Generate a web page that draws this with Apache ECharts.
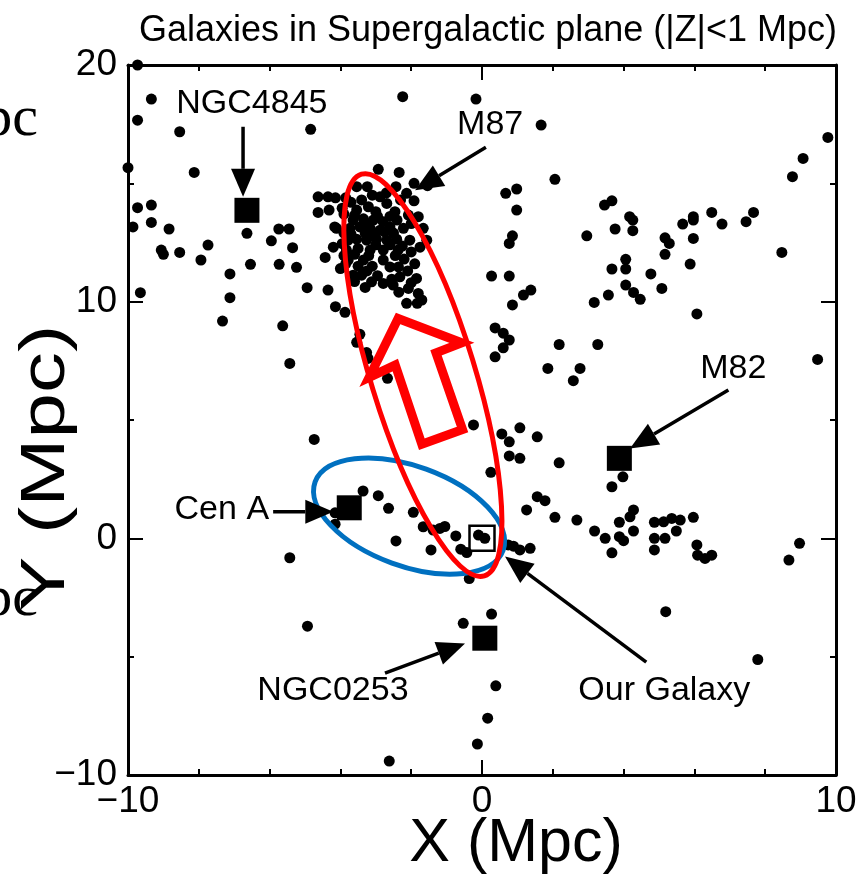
<!DOCTYPE html>
<html>
<head>
<meta charset="utf-8">
<script src="https://cdn.jsdelivr.net/npm/echarts@6.0.0/dist/echarts.min.js"></script>
<style>
  html, body { margin: 0; padding: 0; background: #fff; }
  #chart { width: 868px; height: 886px; }
</style>
</head>
<body>
<div id="chart"></div>
<script>
// galaxies with |Z| < 1 Mpc, [X, Y] in Mpc
const galaxyXY = [
  [-9.73, 20.0], [-9.34, 18.56], [-9.73, 17.67], [-8.54, 17.18], [-2.24, 18.66], [-0.17, 18.56],
  [-4.84, 17.28], [-10.0, 15.66], [-8.13, 15.46], [-9.73, 13.97], [-9.34, 14.08], [-9.86, 13.16],
  [-9.34, 13.35], [-8.84, 13.07], [-9.06, 12.18], [-9.0, 12.0], [-8.54, 12.08], [-7.94, 11.76],
  [-7.74, 12.39], [-9.65, 10.38], [-6.64, 12.89], [-6.54, 11.58], [-7.12, 11.17], [-7.12, 10.17],
  [-7.33, 9.18], [-5.63, 8.98], [-5.95, 12.57], [-5.74, 13.07], [-5.45, 13.07], [-5.35, 12.28],
  [-5.73, 11.58], [-5.24, 11.45], [-4.94, 10.59], [-4.35, 10.49], [-4.14, 9.79], [-3.87, 9.55],
  [-4.43, 11.87], [-4.63, 14.43], [-4.35, 14.43], [-4.63, 13.77], [-4.32, 13.87], [-4.16, 13.16],
  // M87 / Virgo
  [-2.93, 15.59], [-2.34, 15.46], [-3.54, 14.86], [-3.24, 14.86], [-2.43, 14.86], [-1.92, 15.0],
  [-2.13, 14.58], [-4.14, 14.39], [-3.85, 14.39], [-2.88, 14.43], [-2.69, 14.15], [-1.92, 14.26],
  [-3.54, 13.87], [-3.21, 14.01], [-2.46, 13.8], [-2.08, 13.66], [-1.8, 13.59], [-3.64, 13.45],
  [-3.35, 13.5], [-3.07, 13.45], [-2.79, 13.38], [-4.11, 13.1], [-3.73, 13.1], [-3.45, 13.16],
  [-3.16, 13.1], [-2.88, 13.02], [-2.6, 13.16], [-2.22, 13.1], [-1.66, 13.1], [-1.56, 12.6],
  [-3.78, 12.6], [-3.54, 12.64], [-3.26, 12.6], [-2.98, 12.64], [-2.69, 12.6], [-2.41, 12.64],
  [-2.04, 12.6], [-3.83, 12.18], [-3.5, 12.25], [-3.16, 12.18], [-2.79, 12.18], [-2.37, 12.18],
  [-3.78, 11.76], [-3.35, 11.76], [-2.79, 11.76], [-2.6, 11.47], [-2.36, 11.47], [-3.64, 11.12],
  [-3.4, 11.12], [-3.12, 10.84], [-2.79, 10.77], [-2.51, 10.7], [-2.32, 11.05], [-1.85, 10.98],
  [-2.08, 10.56], [-1.8, 10.35], [-1.7, 10.07], [-2.13, 9.93], [-1.83, 9.93], [-1.54, 14.9],
  [-3.9, 13.7], [-3.0, 13.8], [-2.6, 13.6], [-3.3, 12.9], [-2.5, 12.9], [-3.0, 12.4],
  [-2.6, 12.4], [-3.6, 12.0], [-3.1, 11.5], [-2.0, 12.1], [-1.9, 11.6], [-4.0, 11.4],
  [-3.9, 12.9], [-4.2, 12.3], [-2.2, 11.8],
  [-3.7, 14.2], [-3.4, 14.3], [-3.1, 14.5], [-2.7, 14.6], [-2.3, 14.3], [-3.95, 13.95],
  [-3.6, 13.65], [-3.3, 13.25], [-2.95, 13.6], [-2.4, 13.45], [-2.0, 13.3], [-3.95, 12.45],
  [-3.7, 12.85], [-3.1, 12.85], [-2.75, 12.95], [-2.25, 12.35], [-1.75, 12.3], [-3.9, 11.95],
  [-3.5, 11.5], [-3.2, 11.95], [-2.45, 11.95], [-2.1, 11.3], [-3.85, 11.6], [-3.25, 11.3],
  [-2.95, 11.1], [-2.55, 10.95], [-3.6, 10.85], [-2.35, 10.4], [-2.0, 10.8], [-3.3, 10.6],
  [-3.45, 8.62], [-3.54, 8.28], [-3.26, 7.85], [-3.22, 7.6], [-2.67, 6.76],
  [-5.43, 7.39], [-4.74, 4.18], [-0.24, 4.79],
  // upper right
  [1.67, 17.46], [2.06, 15.17], [9.77, 16.94], [9.07, 16.05], [8.77, 15.28], [0.67, 14.58],
  [0.98, 14.76], [0.98, 13.87], [0.86, 12.78], [0.77, 12.46], [0.27, 11.08], [0.77, 11.08],
  [1.17, 10.28], [1.38, 10.49], [0.86, 9.86], [0.37, 8.89], [0.6, 8.67], [0.77, 8.38],
  [0.6, 8.05], [0.37, 7.67], [2.18, 8.19], [3.27, 8.19], [2.96, 12.78], [3.46, 14.08],
  [3.67, 14.26], [3.76, 13.07], [4.17, 13.59], [4.26, 13.45], [4.26, 13.0], [4.06, 11.79],
  [4.06, 11.38], [3.67, 11.38], [4.06, 10.7], [4.28, 10.39], [4.47, 10.1], [3.57, 10.28],
  [3.17, 9.97], [4.77, 11.17], [5.08, 10.56], [5.17, 12.7], [5.29, 12.46], [5.17, 12.0],
  [5.67, 13.28], [5.97, 13.59], [5.97, 13.45], [5.97, 12.67], [5.88, 11.59], [6.49, 13.77],
  [6.78, 13.28], [7.46, 13.38], [7.67, 13.77], [8.47, 12.08], [6.07, 9.48],
  // middle right
  [1.86, 7.18], [2.77, 7.18], [2.58, 6.66], [9.48, 7.56], [0.56, 4.41], [0.77, 4.08],
  [1.07, 4.67], [1.56, 4.29], [0.77, 3.48], [1.07, 3.38], [2.18, 3.19], [0.25, 2.79],
  [3.98, 2.6], [3.67, 2.18], [1.56, 1.76], [1.78, 1.59], [1.26, 1.2], [2.06, 0.89],
  [2.68, 0.77], [3.18, 0.31], [3.48, 0.0], [3.67, -0.61], [3.88, 0.68], [4.18, 0.91],
  [4.28, 1.2], [3.88, 0.07], [4.0, -0.1], [4.28, 0.31], [4.87, 0.68], [5.13, 0.7],
  [5.36, 0.84], [5.6, 0.77], [5.49, 0.31], [5.97, 0.89], [4.87, 0.0], [5.17, 0.0],
  [4.87, -0.49], [6.07, -0.28], [6.09, -0.71], [6.3, -0.85], [6.49, -0.71], [8.97, -0.21],
  [8.67, -0.92], [0.89, -0.33], [1.07, -0.49], [1.36, -0.42], [0.74, -0.28],
  // local group
  [-0.1, 0.14], [0.08, 0.0], [-0.6, -0.46], [-0.43, -0.6], [-0.36, -1.7],
  [-3.36, 2.0], [-2.93, 1.8], [-2.64, 1.27], [-1.94, 1.1], [-1.66, 0.49], [-1.38, 0.35],
  [-1.19, 0.42], [-1.05, 0.5], [-0.74, 0.1], [-1.44, -0.49], [-2.43, -0.11], [-4.15, 1.08],
  [-4.15, 0.6], [-5.43, -0.82],
  // lower
  [-4.93, -3.71], [-0.53, -3.59], [0.27, -3.2], [0.39, -6.23], [0.16, -7.6], [-0.13, -8.69],
  [-2.62, -9.41], [5.19, -3.1], [7.79, -5.12],
]

// NGC4845, Cen A, M82, NGC0253
const groupXY = [[-6.64, 13.86], [-3.75, 1.29], [3.88, 3.38], [0.08, -4.22]]
const ourGalaxyXY = [[0, 0]]

const xTickLabels = [-10, 0, 10]
const yTickLabels = [-10, 0, 10, 20]

// annotations, in data units
const labels = [
  { text: 'NGC4845', at: [-6.5, 18.37] },
  { text: 'M87', at: [0.23, 17.48] },
  { text: 'M82', at: [7.1, 7.17] },
  { text: 'Cen A', at: [-7.35, 1.21] },
  { text: 'NGC0253', at: [-4.21, -6.45] },
  { text: 'Our Galaxy', at: [5.15, -6.45] },
]
const arrows = [
  [[-6.75, 17.39], [-6.75, 14.43]],
  [[0.11, 16.52], [-1.89, 14.71]],
  [[6.96, 6.27], [4.18, 3.8]],
  [[-5.9, 1.12], [-4.2, 1.12]],
  [[-2.74, -5.7], [-0.48, -4.44]],
  [[4.64, -5.23], [0.65, -0.77]],
]
const bigArrow = [[-2.37, 9.29], [-0.57, 8.26], [-1.3, 7.84], [-0.55, 4.6], [-1.7, 3.98], [-2.45, 7.32], [-3.19, 6.8]]

const font = '"Liberation Sans", Arial, sans-serif'
const fmt = v => (v < 0 ? '\u2212' + Math.abs(v) : String(v))

const chart = echarts.init(document.getElementById('chart'))

const axisCommon = {
  type: 'value',
  splitLine: { show: false },
  axisLine: { show: true, onZero: false, lineStyle: { color: '#000', width: 3 } },
  axisTick: { show: true, inside: true, length: 15, lineStyle: { color: '#000', width: 2 } },
}

chart.setOption({
  animation: false,
  grid: { left: 128, right: 32, top: 65, bottom: 111, outerBoundsMode: 'none' },
  xAxis: [
    {
      ...axisCommon,
      min: -10,
      max: 10,
      interval: 10,
      position: 'bottom',
      minorTick: { show: true, splitNumber: 5, length: 6, lineStyle: { color: '#000', width: 2 } },
      axisLabel: {
        margin: 8,
        color: '#000',
        fontFamily: font,
        fontSize: 37,
        showMinLabel: true,
        showMaxLabel: true,
        formatter: v => (xTickLabels.includes(v) ? fmt(v) : ''),
      },
    },
    {
      ...axisCommon,
      min: -10,
      max: 10,
      interval: 10,
      position: 'top',
      minorTick: { show: true, splitNumber: 5, length: 6, lineStyle: { color: '#000', width: 2 } },
      axisLabel: { show: false },
    },
  ],
  yAxis: [
    {
      ...axisCommon,
      min: -10,
      max: 20,
      interval: 10,
      position: 'left',
      minorTick: { show: true, splitNumber: 2, length: 6, lineStyle: { color: '#000', width: 2 } },
      axisLabel: {
        margin: 11,
        color: '#000',
        fontFamily: font,
        fontSize: 37,
        showMinLabel: true,
        showMaxLabel: true,
        formatter: v => (yTickLabels.includes(v) ? fmt(v) : ''),
      },
    },
    {
      ...axisCommon,
      min: -10,
      max: 20,
      interval: 10,
      position: 'right',
      minorTick: { show: true, splitNumber: 2, length: 6, lineStyle: { color: '#000', width: 2 } },
      axisLabel: { show: false },
    },
  ],
  series: [
    {
      type: 'scatter',
      data: galaxyXY,
      symbol: 'circle',
      symbolSize: 11,
      itemStyle: { color: '#000', opacity: 1 },
      z: 2,
    },
    {
      type: 'scatter',
      data: groupXY,
      symbol: 'rect',
      symbolSize: 25,
      itemStyle: { color: '#000', opacity: 1 },
      z: 3,
    },
    {
      type: 'scatter',
      data: ourGalaxyXY,
      symbol: 'rect',
      symbolSize: 25,
      itemStyle: { color: 'rgba(0,0,0,0)', borderColor: '#000', borderWidth: 2.5, opacity: 1 },
      z: 1,
    },
  ],
})

const px = p => chart.convertToPixel({ xAxisIndex: 0, yAxisIndex: 0 }, p)

function arrow(from, to) {
  const a = px(from)
  const b = px(to)
  const dx = b[0] - a[0]
  const dy = b[1] - a[1]
  const len = Math.hypot(dx, dy)
  const ux = dx / len
  const uy = dy / len
  const L = 28
  const w = 12
  const bx = b[0] - ux * L
  const by = b[1] - uy * L
  return [
    { type: 'line', z: 20, shape: { x1: a[0], y1: a[1], x2: bx, y2: by }, style: { stroke: '#000', lineWidth: 3.5 } },
    { type: 'polygon', z: 20, shape: { points: [b, [bx - uy * w, by + ux * w], [bx + uy * w, by - ux * w]] }, style: { fill: '#000' } },
  ]
}

const blueC = px([-2.06, 0.94])
const redC = px([-1.67, 6.9])

let graphic = [
  {
    type: 'text', z: 20,
    style: { text: 'Galaxies in Supergalactic plane (|Z|<1 Mpc)', x: 488, y: 31, align: 'center', verticalAlign: 'middle', font: '36px ' + font, fill: '#000' },
  },
  // axis titles
  {
    type: 'text', z: 20, x: 516, y: 844,
    style: { text: 'X (Mpc)', x: 0, y: 0, align: 'center', verticalAlign: 'middle', font: '61px ' + font, fill: '#000' },
  },
  {
    type: 'text', z: 20, x: 47, y: 468, rotation: Math.PI / 2, scaleX: 1.3,
    style: { text: 'Y (Mpc)', x: 0, y: 0, align: 'center', verticalAlign: 'middle', font: '63px ' + font, fill: '#000' },
  },
  // cut-off text at the left edge
  { type: 'text', z: 20, style: { text: 'Mpc', x: 38, y: 120, align: 'right', verticalAlign: 'middle', font: '58px "Liberation Serif", serif', fill: '#000' } },
  { type: 'text', z: 20, style: { text: 'Mpc', x: 38, y: 600, align: 'right', verticalAlign: 'middle', font: '58px "Liberation Serif", serif', fill: '#000' } },
  {
    type: 'ellipse', z: 10, x: blueC[0], y: blueC[1], rotation: -0.349,
    shape: { cx: 0, cy: 0, rx: 100, ry: 50 },
    style: { fill: 'none', stroke: '#0070C0', lineWidth: 5 },
  },
  {
    type: 'ellipse', z: 11, x: redC[0], y: redC[1], rotation: 0.297,
    shape: { cx: 0, cy: 0, rx: 52, ry: 210 },
    style: { fill: 'none', stroke: '#FF0000', lineWidth: 5 },
  },
  {
    type: 'polygon', z: 12,
    shape: { points: bigArrow.map(px) },
    style: { fill: 'none', stroke: '#FF0000', lineWidth: 9, lineJoin: 'miter' },
  },
]
labels.forEach(l => {
  const p = px(l.at)
  graphic.push({
    type: 'text', z: 20,
    style: { text: l.text, x: p[0], y: p[1], align: 'center', verticalAlign: 'middle', font: '34px ' + font, fill: '#000' },
  })
})
arrows.forEach(a => { graphic = graphic.concat(arrow(a[0], a[1])) })

chart.setOption({ graphic })
</script>
</body>
</html>
